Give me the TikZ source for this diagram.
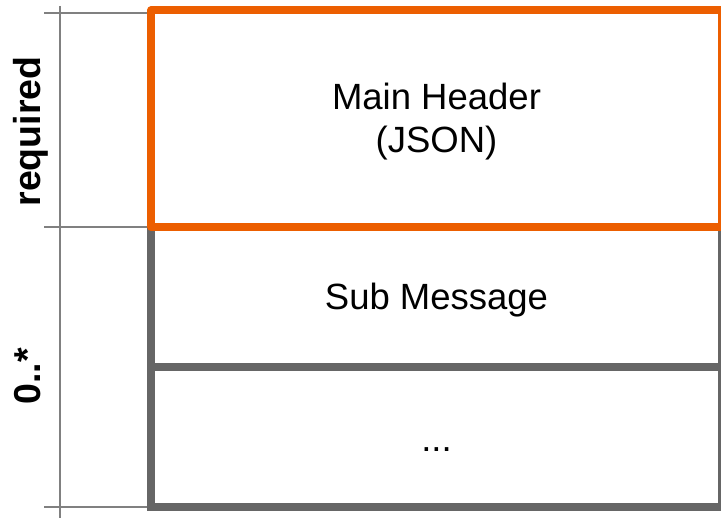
\documentclass[tikz,border=0pt]{standalone}
\usepackage{fontspec}
\setmainfont{Liberation Sans}
\definecolor{hdrorange}{RGB}{236,94,0}
\definecolor{boxgray}{RGB}{102,102,102}
\definecolor{rulegray}{RGB}{128,128,128}
\tikzset{
  ruleline/.style={draw=rulegray, line width=1.5pt},
  graybox/.style={draw=boxgray, line width=7.5pt, rectangle, inner sep=0pt, outer sep=0pt},
  orangebox/.style={draw=hdrorange, line width=8pt, rectangle, inner sep=0pt, outer sep=0pt, line join=round},
  boxtext/.style={font=\fontsize{36.5}{43}\selectfont, inner sep=0pt, anchor=base},
  sidetext/.style={font=\fontsize{37.5}{45}\selectfont\bfseries, inner sep=0pt, anchor=base, rotate=90}
}
\begin{document}
\begin{tikzpicture}[x=1pt, y=-1pt]
  \useasboundingbox (0,0) rectangle (721,519);

  % ruler on the left with section ticks
  \coordinate (rtop) at (60,6);
  \coordinate (rbot) at (60,518);
  \coordinate (t1a) at (44,13);   \coordinate (t1b) at (151,13);
  \coordinate (t2a) at (44,227);  \coordinate (t2b) at (151,227);
  \coordinate (t3a) at (44,507);  \coordinate (t3b) at (151,507);
  \draw[ruleline] (rtop) -- (rbot);
  \draw[ruleline] (t1a) -- (t1b);
  \draw[ruleline] (t2a) -- (t2b);
  \draw[ruleline] (t3a) -- (t3b);

  % message parts
  \node[graybox, minimum width=571pt, minimum height=140pt] (sub) at (436.5,297) {};
  \node[graybox, minimum width=571pt, minimum height=140pt] (more) at (436.5,437) {};
  \node[orangebox, minimum width=571pt, minimum height=216.5pt] (hdr) at (436.5,118.75) {};

  % labels inside the parts
  \node[boxtext] (hdrtitle) at (436.5,109.3) {Main Header};
  \node[boxtext] (hdrformat) at (436.5,152) {(JSON)};
  \node[boxtext] (subtext) at (436.5,309) {Sub Message};
  \node[boxtext] (moretext) at (436.5,451) {...};

  % multiplicity labels
  \node[sidetext] (req) at (41,131.5) {required};
  \node[sidetext] (mult) at (41,376.3) {0..*};
\end{tikzpicture}
\end{document}
